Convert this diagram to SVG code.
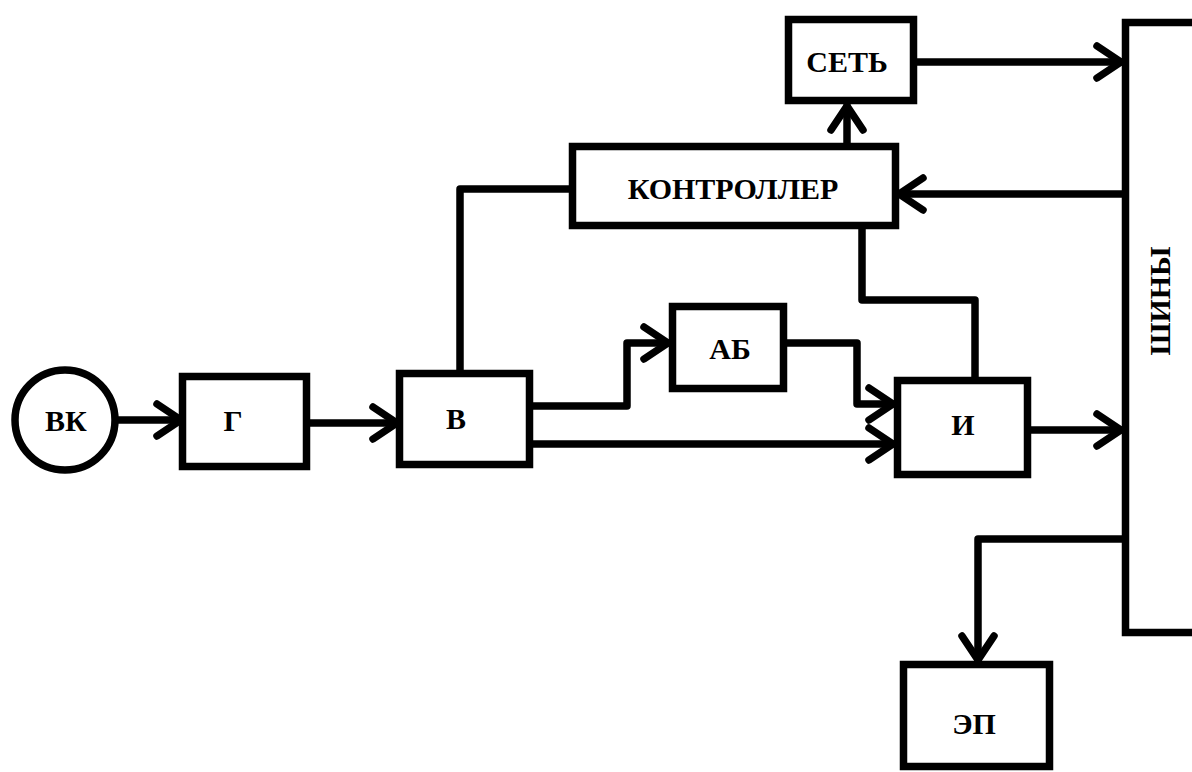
<svg xmlns="http://www.w3.org/2000/svg" width="1192" height="772" viewBox="0 0 1192 772">
<style>
.box{fill:#fff;stroke:#000;stroke-width:7.5}
.ln{fill:none;stroke:#000;stroke-width:7.5;stroke-linejoin:round;stroke-linecap:round}
.arr{marker-end:url(#ah)}
.t{font-family:"Liberation Serif","Times New Roman",serif;font-weight:bold;font-size:30px;fill:#000;text-anchor:middle;dominant-baseline:central}
</style>
<defs>
<marker id="ah" markerUnits="userSpaceOnUse" markerWidth="40" markerHeight="40" viewBox="-30 -20 40 40" refX="0" refY="0" orient="auto">
<path d="M-24,-16 L0,0 L-24,16" fill="none" stroke="#000" stroke-width="7.5" stroke-linecap="round" stroke-linejoin="round"/>
</marker>
</defs>
<rect width="1192" height="772" fill="#fff"/>
<g id="connectors">
<path class="ln arr" d="M117,420 L181,420"/>
<path class="ln arr" d="M307,423 L397,423"/>
<path class="ln" d="M460,370 L460,189 L573,189"/>
<path class="ln arr" d="M533,406 L627,406 L627,343 L668,343"/>
<path class="ln arr" d="M533,444 L893,444"/>
<path class="ln arr" d="M787,343 L857,343 L857,404 L893,404"/>
<path class="ln arr" d="M847,143 L847,106"/>
<path class="ln arr" d="M917,62 L1121,62"/>
<path class="ln arr" d="M1122,194 L899,194"/>
<path class="ln" d="M862,229 L862,300 L975,300 L975,377"/>
<path class="ln arr" d="M1031,430 L1121,430"/>
<path class="ln arr" d="M1122,539 L978,539 L978,660"/>
</g>
<g id="vk"><circle class="box" cx="65" cy="420" r="50"/><text class="t" x="66" y="420">ВК</text></g>
<g id="g"><rect class="box" x="182.5" y="376.5" width="124" height="90"/><text class="t" x="233" y="420">Г</text></g>
<g id="v"><rect class="box" x="399.5" y="373.5" width="130" height="91"/><text class="t" x="456" y="418">В</text></g>
<g id="ab"><rect class="box" x="672.5" y="306.5" width="111" height="82"/><text class="t" x="730" y="348">АБ</text></g>
<g id="i"><rect class="box" x="897.5" y="380.5" width="130" height="94"/><text class="t" x="963" y="424">И</text></g>
<g id="kontroller"><rect class="box" x="572.5" y="146.5" width="323" height="79"/><text class="t" x="733" y="188">КОНТРОЛЛЕР</text></g>
<g id="set"><rect class="box" x="788.5" y="19.5" width="125" height="81"/><text class="t" x="847" y="61">СЕТЬ</text></g>
<g id="shiny"><rect class="box" x="1125.5" y="22.5" width="80" height="610"/><text class="t" x="0" y="0" transform="translate(1159,301) rotate(-90)">ШИНЫ</text></g>
<g id="ep"><rect class="box" x="903.5" y="664.5" width="146" height="102"/><text class="t" x="974" y="723">ЭП</text></g>
</svg>
